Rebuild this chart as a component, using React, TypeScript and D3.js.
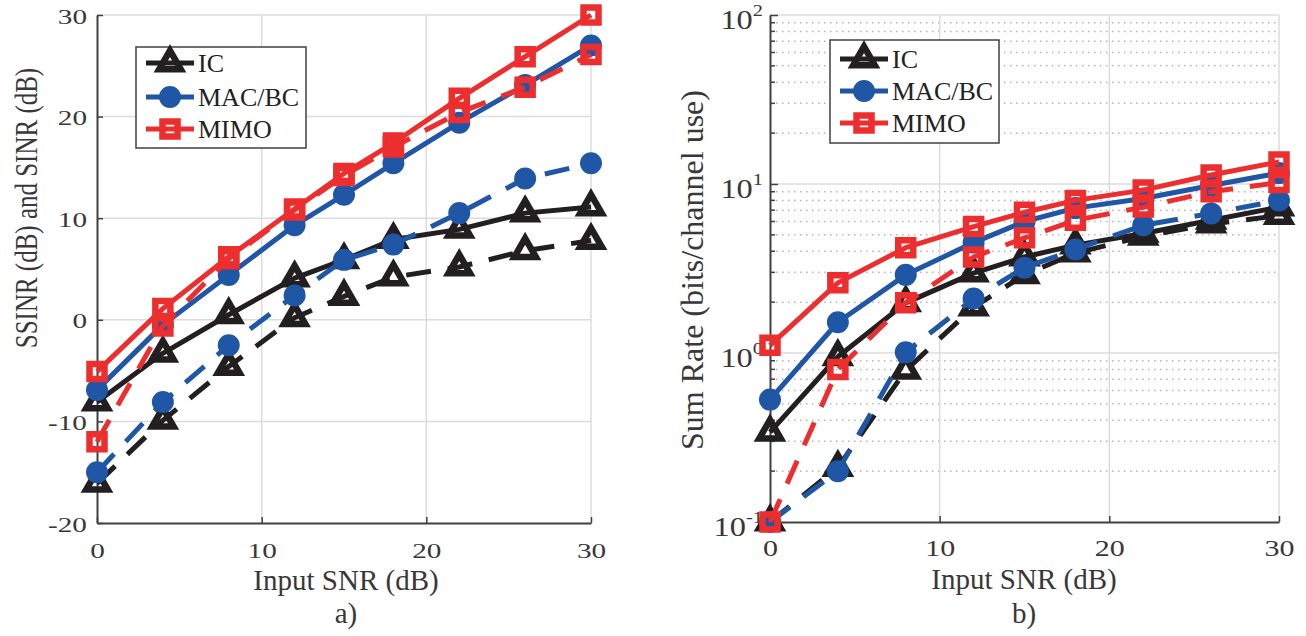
import { useEffect, useRef } from 'react';
import * as d3 from 'd3';

// Input SNR (dB) sample points, shared by both panels
const snr = [0, 4, 8, 12, 15, 18, 22, 26, 30];

// a) SSINR (solid) and SINR (dashed), dB
const icSinrSolid = [-8.1, -3.3, 0.5, 4.1, 5.9, 7.9, 8.9, 10.5, 11.1];
const icSinrDashed = [-16.1, -9.9, -4.6, 0.2, 2.3, 4.2, 5.2, 6.8, 7.8];
const macSinrSolid = [-6.9, -0.5, 4.4, 9.3, 12.3, 15.4, 19.4, 23.1, 27.0];
const macSinrDashed = [-15.0, -8.1, -2.5, 2.4, 5.9, 7.4, 10.5, 13.9, 15.4];
const mimoSinrSolid = [-5.1, 1.1, 6.2, 10.9, 14.4, 17.4, 21.8, 25.9, 30.0];
const mimoSinrDashed = [-12.0, -0.6, 6.0, 10.8, 14.2, 17.0, 20.4, 22.9, 26.1];

// b) Sum rate (bits/channel use)
const icRateSolid = [0.34, 0.95, 1.98, 2.97, 3.7, 4.35, 5.1, 6.1, 7.3];
const icRateDashed = [0.1, 0.21, 0.79, 1.87, 2.9, 3.9, 4.9, 5.8, 6.5];
const macRateSolid = [0.53, 1.52, 2.9, 4.5, 6.0, 7.2, 8.2, 9.8, 11.6];
const macRateDashed = [0.1, 0.2, 1.01, 2.1, 3.2, 4.1, 5.7, 6.7, 8.0];
const mimoRateSolid = [1.11, 2.6, 4.2, 5.6, 6.8, 8.0, 9.2, 11.3, 13.5];
const mimoRateDashed = [0.1, 0.8, 1.98, 3.7, 4.8, 6.1, 7.3, 9.0, 10.2];

const legendLabels = ['IC', 'MAC/BC', 'MIMO'];
const sinrTicks = [-20, -10, 0, 10, 20, 30];
const snrTicks = [0, 10, 20, 30];
const rateTicks = [0.1, 1, 10, 100];

const FONT = '"Liberation Serif", "Times New Roman", serif';
const TEXT = '#383838';
const AXIS = '#404040';
const GRID = '#dcdcdc';
const COLORS = ['#231f20', '#1f57a6', '#ed2e2f'];
const MARKERS = ['tri', 'circle', 'square'];

function markerPath(kind: string) {
  if (kind === 'tri') return d3.symbol(d3.symbolTriangle, 200)()!;
  if (kind === 'square') return d3.symbol(d3.symbolSquare, 15 * 15)()!;
  return d3.symbol(d3.symbolCircle, Math.PI * 10 * 10)()!;
}

function drawMarker(g: any, cx: number, cy: number, i: number) {
  g.append('path')
    .attr('d', markerPath(MARKERS[i]))
    .attr('transform', `translate(${cx},${cy})`)
    .attr('fill', MARKERS[i] === 'circle' ? COLORS[i] : 'none')
    .attr('stroke', COLORS[i])
    .attr('stroke-width', MARKERS[i] === 'circle' ? 2 : 6.5)
    .attr('stroke-linejoin', 'miter');
}

function drawSeries(g: any, x: any, y: any, vals: number[], i: number, dashed: boolean) {
  const line = d3.line<number>()
    .x((_, k) => x(snr[k]))
    .y(d => y(d));
  g.append('path')
    .datum(vals)
    .attr('d', line)
    .attr('fill', 'none')
    .attr('stroke', COLORS[i])
    .attr('stroke-width', 5)
    .attr('stroke-linejoin', 'round')
    .attr('stroke-dasharray', dashed ? '25 17' : null);
  vals.forEach((v, k) => drawMarker(g, x(snr[k]), y(v), i));
}

function drawLegend(g: any, x0: number, y0: number, w: number, h: number, rows: number[]) {
  const lg = g.append('g');
  lg.append('rect')
    .attr('x', x0).attr('y', y0).attr('width', w).attr('height', h)
    .attr('fill', 'white').attr('stroke', AXIS).attr('stroke-width', 1.5);
  legendLabels.forEach((label, i) => {
    const ly = rows[i];
    lg.append('line')
      .attr('x1', x0 + 10).attr('x2', x0 + 58).attr('y1', ly).attr('y2', ly)
      .attr('stroke', COLORS[i]).attr('stroke-width', 5);
    drawMarker(lg, x0 + 34, ly, i);
    lg.append('text')
      .attr('x', x0 + 62).attr('y', ly + 9)
      .attr('font-family', FONT).attr('font-size', 26).attr('fill', '#222')
      .text(label);
  });
}

function styleAxis(ax: any) {
  ax.select('.domain').attr('stroke', AXIS).attr('stroke-width', 2);
  ax.selectAll('.tick line').attr('stroke', AXIS).attr('stroke-width', 1.5);
  ax.selectAll('text').attr('font-family', FONT).attr('fill', TEXT);
}

export default function App() {
  const ref = useRef<SVGSVGElement>(null);

  useEffect(() => {
    if (!ref.current) return;
    const svg = d3.select(ref.current);
    svg.selectAll('*').remove();

    // ---------- panel a) ----------
    const xL = d3.scaleLinear().domain([0, 30]).range([97, 591]);
    const yL = d3.scaleLinear().domain([-20, 30]).range([523, 15]);
    const gA = svg.append('g');

    sinrTicks.slice(1).forEach(t => {
      gA.append('line').attr('x1', 97).attr('x2', 591).attr('y1', yL(t)).attr('y2', yL(t))
        .attr('stroke', GRID).attr('stroke-width', 1.5);
    });
    snrTicks.slice(1).forEach(t => {
      gA.append('line').attr('x1', xL(t)).attr('x2', xL(t)).attr('y1', 15).attr('y2', 523)
        .attr('stroke', GRID).attr('stroke-width', 1.5);
    });

    const axLy = gA.append('g').attr('transform', 'translate(97,0)')
      .call(d3.axisLeft(yL).tickValues(sinrTicks).tickSize(-6).tickSizeOuter(0).tickFormat(d => String(d)));
    styleAxis(axLy);
    axLy.selectAll('text').attr('x', 0).attr('dy', null).attr('font-size', 22)
      .attr('transform', 'translate(-10,8) scale(1.33,1)');

    const axLx = gA.append('g').attr('transform', 'translate(0,523)')
      .call(d3.axisBottom(xL).tickValues(snrTicks).tickSize(-6).tickSizeOuter(0).tickFormat(d => String(d)));
    styleAxis(axLx);
    axLx.selectAll('text').attr('y', 0).attr('dy', null).attr('font-size', 22)
      .attr('transform', 'translate(0,35) scale(1.33,1)');

    gA.append('text')
      .attr('transform', 'translate(37,208) rotate(-90) scale(1,1.25)')
      .attr('text-anchor', 'middle').attr('font-family', FONT).attr('font-size', 25).attr('fill', TEXT)
      .text('SSINR (dB) and SINR (dB)');
    gA.append('text').attr('x', 346).attr('y', 590)
      .attr('text-anchor', 'middle').attr('font-family', FONT).attr('font-size', 29).attr('fill', TEXT)
      .text('Input SNR (dB)');
    gA.append('text').attr('x', 346).attr('y', 623)
      .attr('text-anchor', 'middle').attr('font-family', FONT).attr('font-size', 29).attr('fill', TEXT)
      .text('a)');

    const sinr = [[icSinrSolid, icSinrDashed], [macSinrSolid, macSinrDashed], [mimoSinrSolid, mimoSinrDashed]];
    sinr.forEach((pair, i) => {
      drawSeries(gA, xL, yL, pair[0], i, false);
      drawSeries(gA, xL, yL, pair[1], i, true);
    });
    drawLegend(gA, 136, 47, 170, 101, [63, 97, 129]);

    // ---------- panel b) ----------
    const xR = d3.scaleLinear().domain([0, 30]).range([770, 1279]);
    const yR = d3.scaleLog().domain([0.1, 100]).range([522, 15]);
    const gB = svg.append('g');

    const minors: number[] = [];
    [0.1, 1, 10].forEach(dec => { for (let k = 2; k <= 9; k++) minors.push(dec * k); });
    minors.forEach(v => {
      gB.append('line').attr('x1', 770).attr('x2', 1279).attr('y1', yR(v)).attr('y2', yR(v))
        .attr('stroke', '#b5b5b5').attr('stroke-width', 1.5).attr('stroke-dasharray', '1.5 4.5');
    });
    rateTicks.slice(1).forEach(t => {
      gB.append('line').attr('x1', 770).attr('x2', 1279).attr('y1', yR(t)).attr('y2', yR(t))
        .attr('stroke', GRID).attr('stroke-width', 1.5);
    });
    snrTicks.slice(1).forEach(t => {
      gB.append('line').attr('x1', xR(t)).attr('x2', xR(t)).attr('y1', 15).attr('y2', 522)
        .attr('stroke', GRID).attr('stroke-width', 1.5);
    });

    const axRy = gB.append('g').attr('transform', 'translate(770,0)')
      .call(d3.axisLeft(yR).tickValues(rateTicks).tickSize(-8).tickSizeOuter(0).tickFormat(() => ''));
    styleAxis(axRy);
    axRy.selectAll('.tick text').each(function (d: any) {
      const t = d3.select(this as SVGTextElement);
      t.attr('x', 0).attr('dy', null).attr('font-size', 27)
        .attr('transform', 'translate(-7,13) scale(1.2,1)');
      t.append('tspan').text('10');
      t.append('tspan').attr('dy', -13).attr('font-size', 17).text(String(Math.round(Math.log10(d))));
    });
    minors.forEach(v => {
      gB.append('line').attr('x1', 770).attr('x2', 775).attr('y1', yR(v)).attr('y2', yR(v))
        .attr('stroke', AXIS).attr('stroke-width', 1.5);
    });

    const axRx = gB.append('g').attr('transform', 'translate(0,522)')
      .call(d3.axisBottom(xR).tickValues(snrTicks).tickSize(-6).tickSizeOuter(0).tickFormat(d => String(d)));
    styleAxis(axRx);
    axRx.selectAll('text').attr('y', 0).attr('dy', null).attr('font-size', 24)
      .attr('transform', 'translate(0,34) scale(1.25,1)');

    gB.append('text')
      .attr('transform', 'translate(703,270) rotate(-90)')
      .attr('text-anchor', 'middle').attr('font-family', FONT).attr('font-size', 32).attr('fill', TEXT)
      .text('Sum Rate (bits/channel use)');
    gB.append('text').attr('x', 1024).attr('y', 589)
      .attr('text-anchor', 'middle').attr('font-family', FONT).attr('font-size', 29).attr('fill', TEXT)
      .text('Input SNR (dB)');
    gB.append('text').attr('x', 1024).attr('y', 623)
      .attr('text-anchor', 'middle').attr('font-family', FONT).attr('font-size', 29).attr('fill', TEXT)
      .text('b)');

    const rate = [[icRateSolid, icRateDashed], [macRateSolid, macRateDashed], [mimoRateSolid, mimoRateDashed]];
    rate.forEach((pair, i) => {
      drawSeries(gB, xR, yR, pair[0], i, false);
      drawSeries(gB, xR, yR, pair[1], i, true);
    });
    drawLegend(gB, 830, 40, 169, 103, [59, 91, 123]);
  }, []);

  return (
    <svg
      ref={ref}
      width={1306}
      height={636}
      style={{ position: 'absolute', left: 0, top: 0, background: 'white' }}
    />
  );
}
